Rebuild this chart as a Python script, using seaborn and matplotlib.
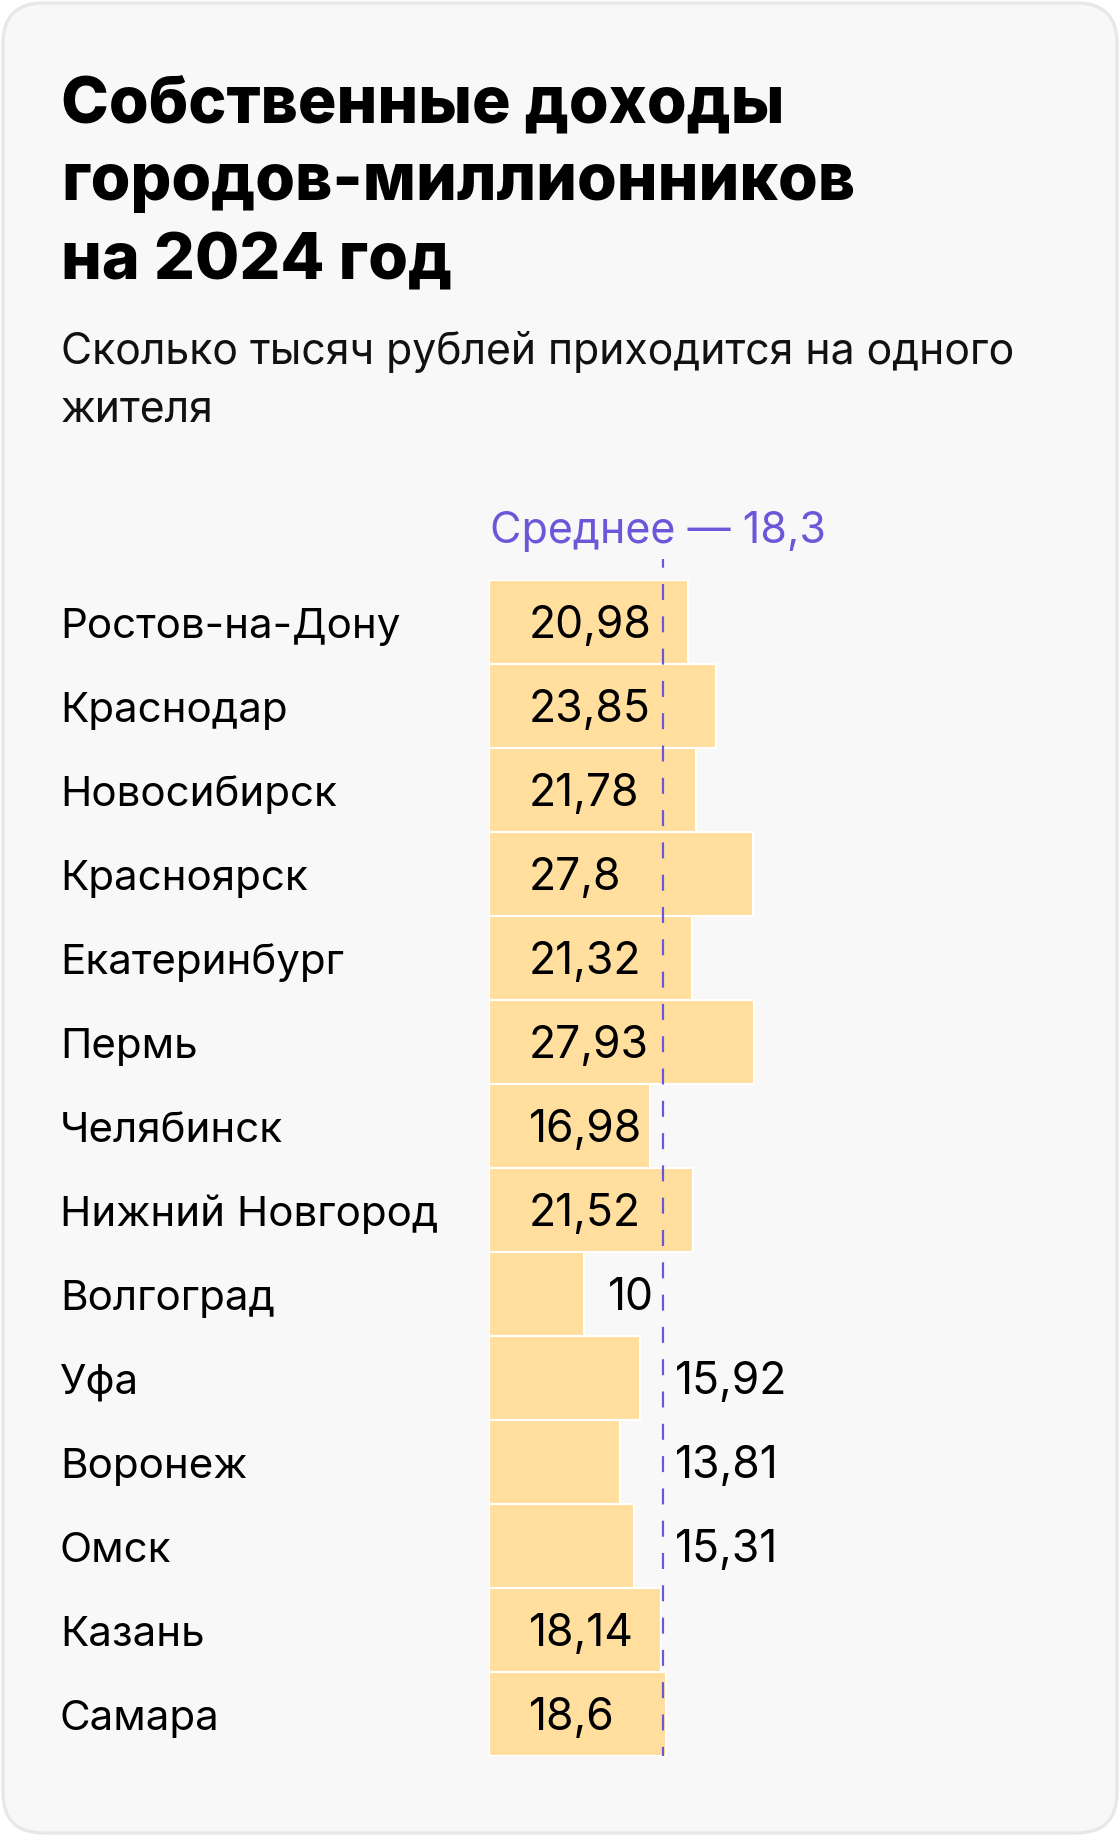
import matplotlib
matplotlib.use("Agg")
import matplotlib.pyplot as plt
import matplotlib.transforms as mtransforms
from matplotlib.patches import FancyBboxPatch
import seaborn as sns
import pandas as pd

# ---------------- data ----------------
cities = ["Ростов-на-Дону", "Краснодар", "Новосибирск", "Красноярск", "Екатеринбург",
          "Пермь", "Челябинск", "Нижний Новгород", "Волгоград", "Уфа", "Воронеж",
          "Омск", "Казань", "Самара"]
values = [20.98, 23.85, 21.78, 27.8, 21.32, 27.93, 16.98, 21.52, 10, 15.92, 13.81,
          15.31, 18.14, 18.6]
value_labels = ["20,98", "23,85", "21,78", "27,8", "21,32", "27,93", "16,98", "21,52",
                "10", "15,92", "13,81", "15,31", "18,14", "18,6"]
mean_value = 18.3
mean_label = "Среднее — 18,3"
title_lines = ["Собственные доходы", "городов-миллионников", "на 2024 год"]
subtitle_lines = ["Сколько тысяч рублей приходится на одного", "жителя"]

df = pd.DataFrame({"city": cities, "value": values})

# ---------------- style ----------------
W, H, DPI = 1120, 1836, 100
BAR = "#FFDE9E"
PURPLE = "#6A58D8"
CARD = "#F8F8F8"
BORDER = "#E8E8E8"
FONT = ["Inter", "DejaVu Sans"]

sns.set_theme(style="white")
plt.rcParams["font.family"] = FONT
plt.rcParams["lines.scale_dashes"] = False

fig = plt.figure(figsize=(W / DPI, H / DPI), dpi=DPI, facecolor="white")

def fx(px):
    return px / W

def fy(py):
    return 1 - py / H

PT = 72 / DPI  # points per pixel

# card background
card = FancyBboxPatch((fx(3), fy(1833)), fx(1114), 1830 / H,
                      boxstyle="round,pad=0,rounding_size=0.036",
                      transform=fig.transFigure, facecolor=CARD, edgecolor=BORDER,
                      linewidth=2.4, mutation_aspect=W / H, zorder=-10)
fig.patches.append(card)

# title / subtitle
title_base = [122, 200, 279]
for line, yb in zip(title_lines, title_base):
    fig.text(fx(61), fy(yb), line, fontsize=46.3, fontweight="heavy", color="black",
             ha="left", va="baseline")
sub_base = [364, 422]
for line, yb in zip(subtitle_lines, sub_base):
    fig.text(fx(61), fy(yb), line, fontsize=30.8, color="#111111",
             ha="left", va="baseline")

# axes: bar area
left_px, scale = 489, 9.5
x_max = 60
top_px, bot_px = 580, 1756
ax = fig.add_axes([fx(left_px), 1 - bot_px / H, x_max * scale / W, (bot_px - top_px) / H])
ax.patch.set_alpha(0)
ax.set_zorder(1)

sns.barplot(data=df, x="value", y="city", orient="h", color=BAR, saturation=1,
            width=1.0, edgecolor="white", linewidth=1.5, ax=ax)
ax.set_xlim(0, x_max)
ax.set_ylim(len(cities) - 0.5, -0.5)
ax.axis("off")

# mean dashed line (drawn top to bottom)
ax.plot([mean_value, mean_value], [-0.75, len(cities) - 0.5], color=PURPLE,
        linewidth=2.2 * PT, linestyle=(7.3 * PT, (16 * PT, 16.3 * PT)),
        solid_capstyle="butt", dash_capstyle="butt", clip_on=False, zorder=5)
ax.text(0, -0.5, mean_label, transform=mtransforms.offset_copy(
            ax.transData, fig=fig, x=0.5, y=37, units="dots"),
        fontsize=31, color=PURPLE, ha="left", va="baseline", clip_on=False)

# city labels and value labels
cap_off = -15.5  # pixels: put cap-height center on bar center
for i, (city, v, lab) in enumerate(zip(cities, values, value_labels)):
    ax.text(0, i, city,
            transform=mtransforms.offset_copy(ax.transData, fig=fig, x=-(left_px - 60),
                                              y=cap_off, units="dots"),
            fontsize=30.3, color="black", ha="left", va="baseline", clip_on=False)
    if v >= 16.5:
        x, dx, ha = 0, 40, "left"
    elif v < 12:
        x, dx, ha = mean_value, -9, "right"
    else:
        x, dx, ha = mean_value, 12, "left"
    ax.text(x, i, lab,
            transform=mtransforms.offset_copy(ax.transData, fig=fig, x=dx,
                                              y=cap_off, units="dots"),
            fontsize=32, color="black", ha=ha, va="baseline", clip_on=False, zorder=6)

fig.savefig("out.png", dpi=DPI, facecolor="white")
